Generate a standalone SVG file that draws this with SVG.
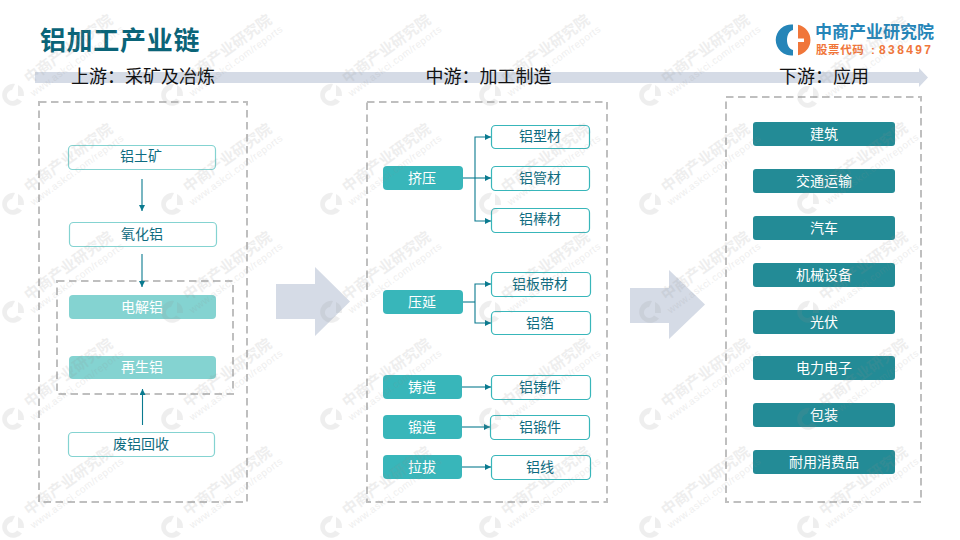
<svg xmlns="http://www.w3.org/2000/svg" width="960" height="540" viewBox="0 0 960 540">
<style>
text{font-family:"Liberation Sans","Noto Sans CJK SC",sans-serif;text-anchor:middle}
.sub{font-size:18px;fill:#111}
.dash{fill:none;stroke:#bfbfbf;stroke-width:2;stroke-dasharray:7.500 4.500}
.out{fill:#fff;stroke:#84d3d1;stroke-width:1.2}
.out2{fill:#fff;stroke:#38b6ba;stroke-width:1.2}
.lbl{font-size:14px;fill:#0e6b80}
.lt{fill:#84d3d1}.mid{fill:#38b6ba}.dk{fill:#238b96}
.w{font-size:14px;fill:#fff}
.con{fill:none;stroke:#0a7a8f;stroke-width:1.1}
.big{fill:#d5dbe6}
.wm{fill:#8f8f8f;opacity:.14}
</style>
<defs>
<marker id="a" markerWidth="6" markerHeight="6" refX="6" refY="3" orient="auto" markerUnits="userSpaceOnUse" viewBox="0 0 6 6"><path d="M0 0L6 3L0 6z" fill="#0a7a8f"/></marker>
<g id="wmk" class="wm">
<path d="M2-11A11 11 0 1 0 9 6.500L4 3.500A5.500 5.500 0 1 1 -1-5z"/><path d="M5-10A11 11 0 0 1 11 1H5z"/>
<g transform="translate(16,-11) rotate(-36)"><text x="0" y="0" style="text-anchor:start;font-size:15px;font-weight:bold">中商产业研究院</text><text x="-4" y="13" style="text-anchor:start;font-size:10px;letter-spacing:.5px">www.askci.com/reports</text></g>
</g>
</defs>
<rect width="960" height="540" fill="#fff"/>
<path id="band" class="big" d="M35 72H919V68L928 77.500L919 87V83H35z"/>
<text id="title" x="120" y="50" style="font-size:26px;font-weight:bold;fill:#0a6478;letter-spacing:.7px">铝加工产业链</text>
<text class="sub" x="143" y="83">上游：采矿及冶炼</text>
<text class="sub" x="488.500" y="83">中游：加工制造</text>
<text class="sub" x="824" y="83">下游：应用</text>
<g id="logo">
<path fill="#2585b8" d="M793 24.600A15.500 15.500 0 1 0 793 55.400V50C789 49 787 45 787 40C787 35 789 31 793 30z"/>
<path fill="#f0763a" d="M798 24.800A15.500 15.500 0 0 1 798 55.200V42H804V38.500H798z"/>
<text x="874.500" y="38" style="font-size:17px;font-weight:bold;fill:#2585b8">中商产业研究院</text>
<text y="54" style="text-anchor:start;font-size:11.500px;font-weight:bold;fill:#f0763a"><tspan x="816" letter-spacing=".6">股票代码</tspan><tspan x="871">:</tspan><tspan x="879" letter-spacing="2.400" font-size="12">838497</tspan></text>
</g>
<g id="frames">
<rect class="dash" x="39" y="102" width="208" height="400"/>
<rect class="dash" x="367" y="102" width="240" height="400"/>
<rect class="dash" x="726" y="97" width="195" height="405"/>
<rect class="dash" x="57" y="281" width="176" height="113"/>
</g>
<path class="big" d="M276 284H315V267L350 301.500L315 336V319H276z"/>
<path class="big" d="M630 288H669V270L705 304.500L669 339V323H630z"/>
<g id="connectors">
<g class="con">
<path d="M142 179V211" marker-end="url(#a)"/><path d="M142 254V287" marker-end="url(#a)"/><path d="M142.500 425V389" marker-end="url(#a)"/>
<path d="M463 178H491" marker-end="url(#a)"/><path d="M475 178V137H491" marker-end="url(#a)"/><path d="M475 178V221H491" marker-end="url(#a)"/>
<path d="M463 302H475"/><path d="M475 302V284H491" marker-end="url(#a)"/><path d="M475 302V323H491" marker-end="url(#a)"/>
<path d="M462 387H491" marker-end="url(#a)"/><path d="M462 427H490" marker-end="url(#a)"/><path d="M462 467H491" marker-end="url(#a)"/>
</g>
</g>
<g id="n1"><rect class="out" x="68.500" y="145.500" width="147" height="24" rx="4"/><text class="lbl" x="141" y="161">铝土矿</text></g>
<g id="n2"><rect class="out" x="69.500" y="222.500" width="147" height="24" rx="4"/><text class="lbl" x="142" y="239">氧化铝</text></g>
<g id="n3"><rect class="lt" x="69" y="295" width="147" height="24" rx="4"/><text class="w" x="142" y="312">电解铝</text></g>
<g id="n4"><rect class="lt" x="69" y="356" width="147" height="23" rx="4"/><text class="w" x="142" y="372">再生铝</text></g>
<g id="n5"><rect class="out" x="68.500" y="432.500" width="146" height="24" rx="4"/><text class="lbl" x="141" y="449">废铝回收</text></g>
<g id="m1"><rect class="mid" x="383" y="166" width="80" height="24" rx="4"/><text class="w" x="422" y="183">挤压</text></g>
<g id="m2"><rect class="mid" x="383" y="290" width="80" height="24" rx="4"/><text class="w" x="422" y="307">压延</text></g>
<g id="m3"><rect class="mid" x="383" y="375" width="79" height="24" rx="4"/><text class="w" x="422" y="392">铸造</text></g>
<g id="m4"><rect class="mid" x="383" y="415" width="79" height="24" rx="4"/><text class="w" x="422" y="432">锻造</text></g>
<g id="m5"><rect class="mid" x="383" y="455" width="79" height="24" rx="4"/><text class="w" x="422" y="472">拉拔</text></g>
<g id="p1"><rect class="out2" x="491.500" y="125.500" width="98" height="23" rx="4"/><text class="lbl" x="540" y="141">铝型材</text></g>
<g id="p2"><rect class="out2" x="491.500" y="166.500" width="98" height="24" rx="4"/><text class="lbl" x="540" y="183">铝管材</text></g>
<g id="p3"><rect class="out2" x="491.500" y="208.500" width="98" height="24" rx="4"/><text class="lbl" x="540" y="224">铝棒材</text></g>
<g id="p4"><rect class="out2" x="491.500" y="272.500" width="99" height="24" rx="4"/><text class="lbl" x="540" y="289">铝板带材</text></g>
<g id="p5"><rect class="out2" x="491.500" y="311.500" width="99" height="23" rx="4"/><text class="lbl" x="540" y="328">铝箔</text></g>
<g id="p6"><rect class="out2" x="491.500" y="375.500" width="99" height="24" rx="4"/><text class="lbl" x="540" y="392">铝铸件</text></g>
<g id="p7"><rect class="out2" x="490.500" y="415.500" width="99" height="24" rx="4"/><text class="lbl" x="540" y="432">铝锻件</text></g>
<g id="p8"><rect class="out2" x="491.500" y="455.500" width="99" height="24" rx="4"/><text class="lbl" x="540" y="472">铝线</text></g>
<g id="r1"><rect class="dk" x="753" y="122" width="142" height="24" rx="3"/><text class="w" x="824" y="139">建筑</text></g>
<g id="r2"><rect class="dk" x="753" y="169" width="142" height="24" rx="3"/><text class="w" x="824" y="186">交通运输</text></g>
<g id="r3"><rect class="dk" x="753" y="216" width="142" height="24" rx="3"/><text class="w" x="824" y="233">汽车</text></g>
<g id="r4"><rect class="dk" x="753" y="263" width="142" height="24" rx="3"/><text class="w" x="824" y="280">机械设备</text></g>
<g id="r5"><rect class="dk" x="753" y="310" width="142" height="24" rx="3"/><text class="w" x="824" y="327">光伏</text></g>
<g id="r6"><rect class="dk" x="753" y="356" width="142" height="24" rx="3"/><text class="w" x="824" y="373">电力电子</text></g>
<g id="r7"><rect class="dk" x="753" y="403" width="142" height="24" rx="3"/><text class="w" x="824" y="420">包装</text></g>
<g id="r8"><rect class="dk" x="753" y="450" width="142" height="24" rx="3"/><text class="w" x="824" y="467">耐用消费品</text></g>
<g id="watermarks">
<use href="#wmk" x="13" y="95"/><use href="#wmk" x="172" y="95"/><use href="#wmk" x="331" y="95"/><use href="#wmk" x="490" y="95"/><use href="#wmk" x="650" y="95"/><use href="#wmk" x="808" y="97"/>
<use href="#wmk" x="13" y="204"/><use href="#wmk" x="172" y="204"/><use href="#wmk" x="331" y="204"/><use href="#wmk" x="490" y="204"/><use href="#wmk" x="650" y="204"/><use href="#wmk" x="808" y="203"/>
<use href="#wmk" x="13" y="312"/><use href="#wmk" x="172" y="312"/><use href="#wmk" x="331" y="312"/><use href="#wmk" x="490" y="312"/><use href="#wmk" x="650" y="312"/><use href="#wmk" x="808" y="312"/>
<use href="#wmk" x="13" y="419"/><use href="#wmk" x="172" y="419"/><use href="#wmk" x="331" y="419"/><use href="#wmk" x="490" y="419"/><use href="#wmk" x="650" y="419"/><use href="#wmk" x="808" y="419"/>
<use href="#wmk" x="13" y="527"/><use href="#wmk" x="172" y="527"/><use href="#wmk" x="331" y="527"/><use href="#wmk" x="490" y="527"/><use href="#wmk" x="650" y="527"/><use href="#wmk" x="808" y="527"/>
</g>
</svg>
